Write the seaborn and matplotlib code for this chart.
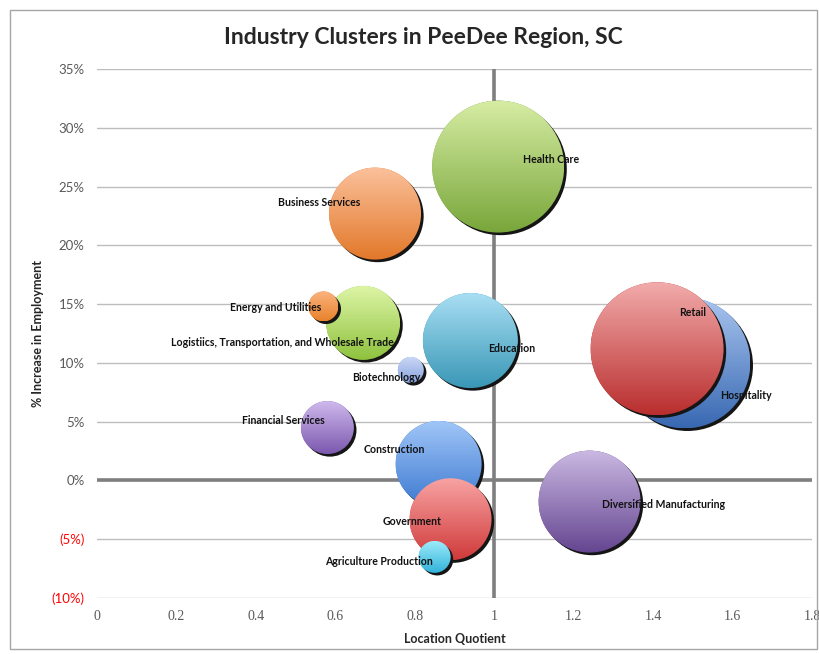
import numpy as np
import pandas as pd
import matplotlib
matplotlib.use("Agg")
import matplotlib.pyplot as plt
import seaborn as sns
from matplotlib.patches import Ellipse, Rectangle
from matplotlib.colors import to_rgb

# data (draw order = list order)
industries = ["Health Care", "Business Services",
              "Logistiics, Transportation, and Wholesale Trade",
              "Energy and Utilities", "Education", "Biotechnology",
              "Hospitality", "Retail", "Financial Services", "Construction",
              "Diversified Manufacturing", "Government", "Agriculture Production"]
location_quotient = [1.01, 0.70, 0.67, 0.57, 0.94, 0.79, 1.48, 1.41, 0.58, 0.86, 1.24, 0.89, 0.85]
pct_increase = [26.7, 22.7, 13.4, 14.8, 11.9, 9.4, 10.0, 11.2, 4.5, 1.4, -1.8, -3.3, -6.5]
bubble_size = [4356, 2116, 1369, 225, 2256, 169, 4290, 4422, 702, 1849, 2601, 1681, 256]

x_ticks = [0, 0.2, 0.4, 0.6, 0.8, 1.0, 1.2, 1.4, 1.6, 1.8]
x_tick_labels = ["0", "0.2", "0.4", "0.6", "0.8", "1", "1.2", "1.4", "1.6", "1.8"]
y_ticks = [-10, -5, 0, 5, 10, 15, 20, 25, 30, 35]
y_tick_labels = ["(10%)", "(5%)", "0%", "5%", "10%", "15%", "20%", "25%", "30%", "35%"]

# styling: gradient top / bottom colours per bubble
top_colors = ["#d6eca3", "#fbc09a", "#ddf5a6", "#fbb47e", "#a9dff4", "#c9d7f5",
              "#a9c5ef", "#f2abab", "#cfb9ed", "#a0c6f8", "#cab8e2", "#f8a3a3", "#9cebfa"]
bottom_colors = ["#78a63a", "#e2782a", "#8fc23e", "#e8822c", "#3997b6", "#8aa4e0",
                 "#3868b2", "#b92e2e", "#7b58ae", "#3d79d0", "#644590", "#d03a3a", "#32b3da"]
# label offsets in pixels (right, up) from bubble centre
label_offsets = [(53, 7), (-56, 11), (-81, -20), (-48, -1), (41, -8), (-25, -8),
                 (61, -33), (36, 36), (-44, 7), (-44, 14), (74, -3), (-38, -2), (-56, -5)]

df = pd.DataFrame({"industry": industries, "lq": location_quotient,
                   "pct": pct_increase, "size": bubble_size})

sns.set_style("white")
plt.rcParams["font.family"] = ["Lato", "DejaVu Sans"]

dpi = 100
fig = plt.figure(figsize=(8.2, 6.54), dpi=dpi)
ax = fig.add_axes([97 / 820, 56 / 654, 715 / 820, 529 / 654])

# marker area in pt^2 proportional to bubble_size (radius px = sqrt(size))
k = (2 * 72 / dpi) ** 2
mid_colors = {ind: c for ind, c in zip(industries, bottom_colors)}
sns.scatterplot(data=df, x="lq", y="pct", hue="industry", palette=mid_colors,
                size="size", sizes=(k * min(bubble_size), k * max(bubble_size)),
                size_norm=(min(bubble_size), max(bubble_size)),
                edgecolor="none", legend=False, ax=ax, zorder=1)

ax.set_xlim(0, 1.8)
ax.set_ylim(-10, 35)

# gradient fill + shadow for every bubble, from the seaborn markers
pts = ax.collections[0]
offsets = pts.get_offsets()
sizes = pts.get_sizes()
p0 = ax.transData.transform((0, 0))
p1 = ax.transData.transform((1, 1))
px_x, px_y = p1[0] - p0[0], p1[1] - p0[1]
shadow_px = 2.6
n = 256
t = np.linspace(0, 1, n)[:, None]
for i, ((x, y), s) in enumerate(zip(offsets, sizes)):
    r_px = np.sqrt(s) / 2 * dpi / 72
    rx, ry = r_px / px_x, r_px / px_y
    z = 2 + i
    shadow = Ellipse((x + shadow_px / px_x, y - shadow_px / px_y), 2 * rx, 2 * ry,
                     facecolor="#151515", edgecolor="none", zorder=z)
    ax.add_patch(shadow)
    top = np.array(to_rgb(top_colors[i]))
    bot = np.array(to_rgb(bottom_colors[i]))
    img = (top * (1 - t) + bot * t)[:, None, :]
    im = ax.imshow(img, extent=(x - rx, x + rx, y - ry, y + ry), origin="upper",
                   aspect="auto", interpolation="bilinear", zorder=z + 0.5)
    clip = Ellipse((x, y), 2 * rx, 2 * ry, transform=ax.transData)
    im.set_clip_path(clip)

ax.set_xlim(0, 1.8)
ax.set_ylim(-10, 35)

# data labels
for i, (x, y) in enumerate(offsets):
    ax.annotate(industries[i], (x, y), xytext=label_offsets[i], textcoords="offset pixels",
                ha="center", va="center", fontsize=7.6, fontweight="bold",
                color="#111111", zorder=100)

# axes styling
for sp in ax.spines.values():
    sp.set_visible(False)
ax.set_axisbelow(True)
ax.yaxis.grid(True, color="#bdbdbd", lw=1.0)
ax.xaxis.grid(False)
ax.axhline(0, color="#7f7f7f", lw=2.6, zorder=0.8)
ax.axvline(1, color="#7f7f7f", lw=2.6, zorder=0.8)

ax.set_xticks(x_ticks)
ax.set_xticklabels(x_tick_labels, family=["Liberation Serif", "DejaVu Serif"],
                   fontsize=10, color="#595959")
ax.set_yticks(y_ticks)
ax.set_yticklabels(y_tick_labels, fontsize=9.5, color="#595959")
for lab, v in zip(ax.get_yticklabels(), y_ticks):
    if v < 0:
        lab.set_color("#ff0000")
ax.tick_params(axis="both", length=0)
ax.tick_params(axis="y", pad=9)
ax.tick_params(axis="x", pad=9)

ax.set_xlabel("Location Quotient", fontsize=9, fontweight="bold")
ax.set_ylabel("% Increase in Employment", fontsize=9, fontweight="bold")
ax.xaxis.set_label_coords(0.5, -35 / 529)
ax.yaxis.set_label_coords(-53 / 715, 0.5)

fig.text(423 / 820, 1 - 38 / 654, "Industry Clusters in PeeDee Region, SC",
         ha="center", va="center", fontsize=16.5, fontweight="bold")

# chart border
fig.patches.append(Rectangle((10 / 820, 5 / 654), 807 / 820, 639 / 654,
                             transform=fig.transFigure, fill=False,
                             edgecolor="#a6a6a6", lw=1.0))

fig.savefig("out.png", dpi=dpi)
